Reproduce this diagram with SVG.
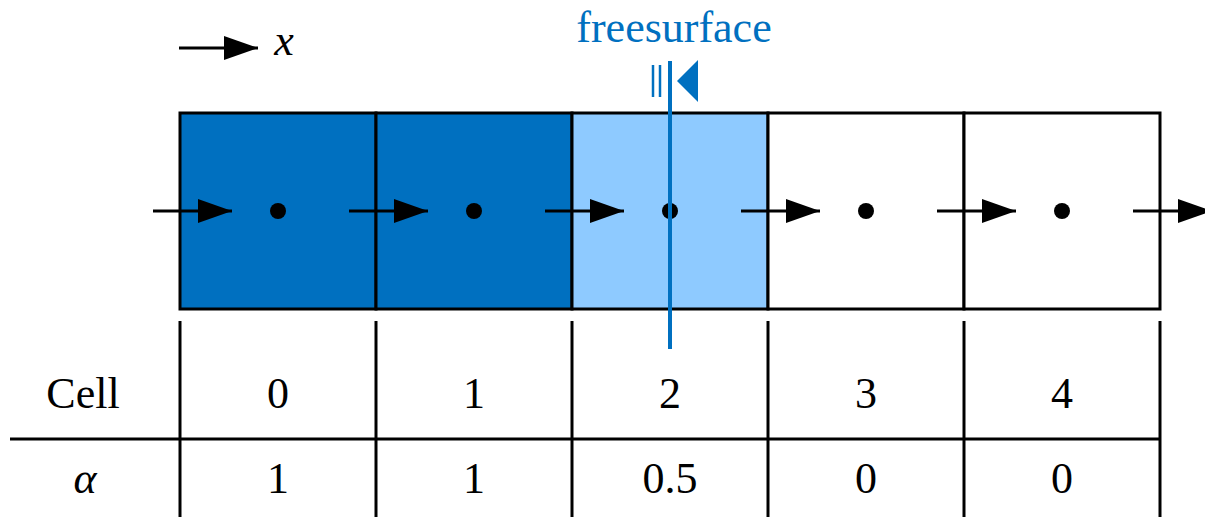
<svg xmlns="http://www.w3.org/2000/svg" width="1205" height="517" viewBox="0 0 1205 517">
<style>
.ln{stroke:#000;stroke-width:3;fill:none}
.t{font-family:'Liberation Serif','Times New Roman','DejaVu Serif',serif;font-size:44px;fill:#000;text-anchor:middle}
.i{font-style:italic}
.blue{stroke:#0070C0;stroke-width:4}
.cell{stroke:#000;stroke-width:3}
</style>
<defs>
<marker id="ah" markerWidth="34" markerHeight="24" refX="34" refY="12" markerUnits="userSpaceOnUse" orient="auto">
<path d="M0,0 L34,12 L0,24 Z" fill="#000"/>
</marker>
</defs>
<rect width="1205" height="517" fill="#fff"/>
<g id="legend">
<line x1="179" y1="48" x2="258" y2="48" class="ln" marker-end="url(#ah)"/>
<text x="284" y="55" class="t i" font-family="Liberation Serif">x</text>
</g>
<g id="cell0"><rect x="180" y="113" width="196" height="196" class="cell" style="fill:#0070C0"/></g>
<g id="cell1"><rect x="376" y="113" width="196" height="196" class="cell" style="fill:#0070C0"/></g>
<g id="cell2"><rect x="572" y="113" width="196" height="196" class="cell" style="fill:#8ECAFF"/></g>
<g id="cell3"><rect x="768" y="113" width="196" height="196" class="cell" style="fill:#fff"/></g>
<g id="cell4"><rect x="964" y="113" width="196" height="196" class="cell" style="fill:#fff"/></g>
<g id="connectors">
<line x1="153" y1="211" x2="232" y2="211" class="ln" marker-end="url(#ah)"/>
<line x1="349" y1="211" x2="428" y2="211" class="ln" marker-end="url(#ah)"/>
<line x1="545" y1="211" x2="624" y2="211" class="ln" marker-end="url(#ah)"/>
<line x1="741" y1="211" x2="820" y2="211" class="ln" marker-end="url(#ah)"/>
<line x1="937" y1="211" x2="1016" y2="211" class="ln" marker-end="url(#ah)"/>
<line x1="1133" y1="211" x2="1212" y2="211" class="ln" marker-end="url(#ah)"/>
</g>
<g id="dots" fill="#000">
<circle cx="278" cy="211" r="8"/>
<circle cx="474" cy="211" r="8"/>
<circle cx="670" cy="211" r="8"/>
<circle cx="866" cy="211" r="8"/>
<circle cx="1062" cy="211" r="8"/>
</g>
<g id="freesurface">
<line x1="670" y1="61" x2="670" y2="349" class="blue"/>
<path d="M677,81 L698,60 L698,102 Z" fill="#0070C0"/>
<line x1="653" y1="65" x2="653" y2="97" stroke="#0070C0" stroke-width="2.5"/>
<line x1="660" y1="65" x2="660" y2="97" stroke="#0070C0" stroke-width="2.5"/>
<text x="674" y="42" class="t" style="fill:#0070C0">freesurface</text>
</g>
<g id="table">
<line x1="180" y1="321" x2="180" y2="517" class="ln"/>
<line x1="376" y1="321" x2="376" y2="517" class="ln"/>
<line x1="572" y1="321" x2="572" y2="517" class="ln"/>
<line x1="768" y1="321" x2="768" y2="517" class="ln"/>
<line x1="964" y1="321" x2="964" y2="517" class="ln"/>
<line x1="1160" y1="321" x2="1160" y2="517" class="ln"/>
<line x1="10" y1="439" x2="1160" y2="439" class="ln"/>
<text x="83" y="408" class="t">Cell</text>
<text x="278" y="408" class="t">0</text>
<text x="474" y="408" class="t">1</text>
<text x="670" y="408" class="t">2</text>
<text x="866" y="408" class="t">3</text>
<text x="1062" y="408" class="t">4</text>
<text x="85" y="493" class="t i">α</text>
<text x="278" y="493" class="t">1</text>
<text x="474" y="493" class="t">1</text>
<text x="670" y="493" class="t">0.5</text>
<text x="866" y="493" class="t">0</text>
<text x="1062" y="493" class="t">0</text>
</g>
</svg>
